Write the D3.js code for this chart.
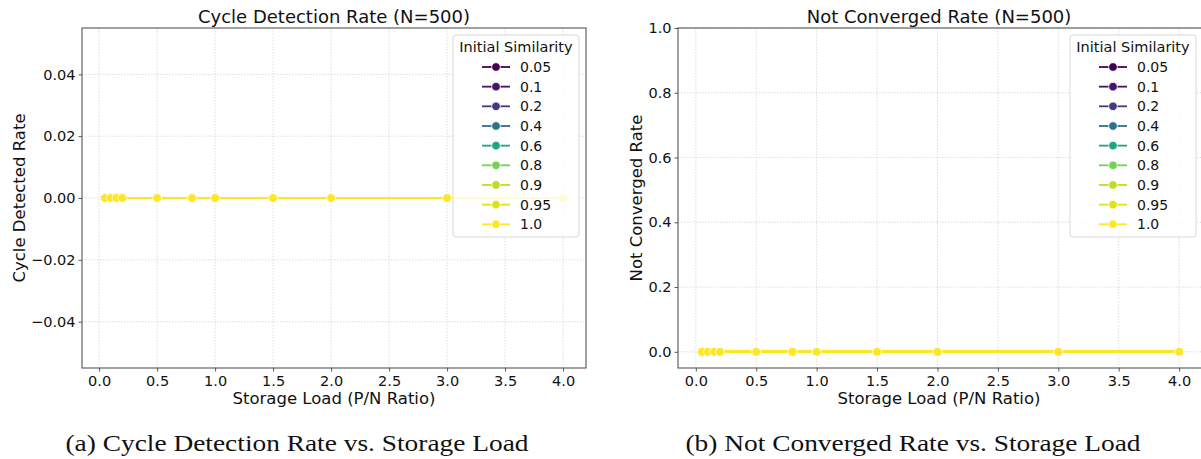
<!DOCTYPE html>
<html>
<head>
<meta charset="utf-8">
<script src="https://cdn.jsdelivr.net/npm/d3@7"></script>
<style>
  body { margin: 0; background: #fff; }
  svg { display: block; }
</style>
</head>
<body>
<svg></svg>
<script>
// DATA
let loads = [0.05, 0.1, 0.15, 0.2, 0.5, 0.8, 1.0, 1.5, 2.0, 3.0, 4.0]
let similarities = ["0.05", "0.1", "0.2", "0.4", "0.6", "0.8", "0.9", "0.95", "1.0"]
// every series is flat at zero in both panels
let cycleRate = [0, 0, 0, 0, 0, 0, 0, 0, 0, 0, 0]
let notConvergedRate = [0, 0, 0, 0, 0, 0, 0, 0, 0, 0, 0]

let xTicks = [0.0, 0.5, 1.0, 1.5, 2.0, 2.5, 3.0, 3.5, 4.0]
let yTicksA = [-0.04, -0.02, 0.00, 0.02, 0.04]
let yTicksB = [0.0, 0.2, 0.4, 0.6, 0.8, 1.0]

let svgWidth = 1201
let svgHeight = 459

let svg = d3.select("svg")
  .attr("width", svgWidth)
  .attr("height", svgHeight)
  .style("font-family", "'DejaVu Sans', sans-serif")

let color = d3.scaleSequential(d3.interpolateViridis).domain([0.05, 1.0])

function drawPanel(opts) {
  let x = d3.scaleLinear().domain([-0.1475, 4.1975]).range([opts.left, opts.right])
  let y = d3.scaleLinear().domain(opts.yDomain).range([opts.bottom, opts.top])

  let g = svg.append("g")

  // clip for the plot area
  let clipId = "clip" + opts.id
  g.append("clipPath").attr("id", clipId)
    .append("rect")
    .attr("x", opts.left).attr("y", opts.top)
    .attr("width", opts.right - opts.left).attr("height", opts.bottom - opts.top)

  // GRID
  g.append("g").selectAll("line")
    .data(xTicks)
    .enter().append("line")
    .attr("x1", d => x(d)).attr("x2", d => x(d))
    .attr("y1", opts.top).attr("y2", opts.bottom)
    .attr("stroke", "#d4d4d4").attr("stroke-width", 0.8)
    .attr("stroke-dasharray", "1.5,1.5")

  g.append("g").selectAll("line")
    .data(opts.yTicks)
    .enter().append("line")
    .attr("x1", opts.left).attr("x2", opts.right)
    .attr("y1", d => y(d)).attr("y2", d => y(d))
    .attr("stroke", "#d4d4d4").attr("stroke-width", 0.8)
    .attr("stroke-dasharray", "1.5,1.5")

  // AXES
  let xAxis = d3.axisBottom(x).tickValues(xTicks).tickFormat(d3.format(".1f")).tickSize(3.5).tickPadding(4)
  let yAxis = d3.axisLeft(y).tickValues(opts.yTicks).tickFormat(opts.yFormat).tickSize(3.5).tickPadding(3)

  let gx = g.append("g")
    .attr("transform", `translate(0, ${opts.bottom})`)
    .call(xAxis)
  let gy = g.append("g")
    .attr("transform", `translate(${opts.left}, 0)`)
    .call(yAxis)

  ;[gx, gy].forEach(a => {
    a.select(".domain").remove()
    a.selectAll("line").attr("stroke", "#444").attr("stroke-width", 0.9)
    a.selectAll("text").attr("fill", "#111").style("font-size", "14.5px")
      .style("font-family", "'DejaVu Sans', sans-serif")
  })
  gy.selectAll("text").text(function () { return this.textContent.replace("-", "\u2212") })

  // frame
  g.append("rect")
    .attr("x", opts.left).attr("y", opts.top)
    .attr("width", opts.right - opts.left).attr("height", opts.bottom - opts.top)
    .attr("fill", "none").attr("stroke", "#555").attr("stroke-width", 1.1)

  // SERIES
  let line = d3.line().x((d, i) => x(loads[i])).y(d => y(d))
  let plot = g.append("g").attr("clip-path", `url(#${clipId})`)
  similarities.forEach(s => {
    let c = color(+s)
    plot.append("path")
      .datum(opts.values)
      .attr("d", line)
      .attr("fill", "none")
      .attr("stroke", c)
      .attr("stroke-width", 2.8)
      .attr("shape-rendering", "crispEdges")
    plot.append("g").selectAll("circle")
      .data(opts.values)
      .enter().append("circle")
      .attr("cx", (d, i) => x(loads[i]))
      .attr("cy", d => y(d))
      .attr("r", 4.4)
      .attr("fill", c)
      .attr("stroke", "#fff")
      .attr("stroke-width", 0.8)
  })

  // TITLES
  g.append("text")
    .attr("x", opts.titleX)
    .attr("y", 23)
    .attr("text-anchor", "middle")
    .style("font-size", "18px")
    .attr("fill", "#111")
    .text(opts.title)

  g.append("text")
    .attr("x", opts.xLabelX)
    .attr("y", 404)
    .attr("text-anchor", "middle")
    .style("font-size", "16.5px")
    .attr("fill", "#111")
    .text("Storage Load (P/N Ratio)")

  g.append("text")
    .attr("transform", `translate(${opts.yLabelX}, ${(opts.top + opts.bottom) / 2}) rotate(-90)`)
    .attr("text-anchor", "middle")
    .style("font-size", "16.5px")
    .attr("fill", "#111")
    .text(opts.yLabel)

  // LEGEND
  let lg = g.append("g").attr("transform", `translate(${opts.legendX}, 35)`)
  lg.append("rect")
    .attr("x", 0).attr("y", 0)
    .attr("width", opts.legendW).attr("height", 202)
    .attr("rx", 3)
    .attr("fill", "#fff").attr("fill-opacity", 0.8)
    .attr("stroke", "#d8d8d8").attr("stroke-width", 1)
  lg.append("text")
    .attr("x", opts.legendW / 2)
    .attr("y", 17)
    .attr("text-anchor", "middle")
    .style("font-size", "14.5px")
    .attr("fill", "#111")
    .text("Initial Similarity")
  let items = lg.selectAll("g.item")
    .data(similarities)
    .enter().append("g")
    .attr("class", "item")
    .attr("transform", (d, i) => `translate(0, ${32 + i * 19.66})`)
  items.append("line")
    .attr("x1", opts.handleX).attr("x2", opts.handleX + 28)
    .attr("y1", 0).attr("y2", 0)
    .attr("stroke", d => color(+d)).attr("stroke-width", 1.8)
  items.append("circle")
    .attr("cx", opts.handleX + 14).attr("cy", 0).attr("r", 4.3)
    .attr("fill", d => color(+d))
    .attr("stroke", "#fff").attr("stroke-width", 0.8)
  items.append("text")
    .attr("x", opts.handleX + 38)
    .attr("y", 5)
    .style("font-size", "14px")
    .attr("fill", "#111")
    .text(d => d)
}

drawPanel({
  id: "a", left: 82, right: 586, top: 28, bottom: 368,
  yDomain: [-0.055, 0.055], yTicks: yTicksA, yFormat: d3.format(".2f"),
  values: cycleRate,
  title: "Cycle Detection Rate (N=500)", titleX: 334,
  yLabel: "Cycle Detected Rate", yLabelX: 25, xLabelX: 334,
  legendX: 453, legendW: 126, handleX: 29
})

drawPanel({
  id: "b", left: 678, right: 1203, top: 28, bottom: 368,
  yDomain: [-0.05, 1.0], yTicks: yTicksB, yFormat: d3.format(".1f"),
  values: notConvergedRate,
  title: "Not Converged Rate (N=500)", titleX: 939,
  yLabel: "Not Converged Rate", yLabelX: 642, xLabelX: 939,
  legendX: 1070, legendW: 126, handleX: 29
})

// CAPTIONS
let captions = ["(a) Cycle Detection Rate vs. Storage Load", "(b) Not Converged Rate vs. Storage Load"]
let captionX = [297, 913]
let captionW = [463, 455]
svg.selectAll("text.caption")
  .data(captions)
  .enter().append("text")
  .attr("class", "caption")
  .attr("x", (d, i) => captionX[i] - captionW[i] / 2)
  .attr("y", 451)
  .attr("textLength", (d, i) => captionW[i])
  .attr("lengthAdjust", "spacingAndGlyphs")
  .style("font-family", "'Liberation Serif', 'Times New Roman', serif")
  .style("font-size", "24px")
  .attr("fill", "#111")
  .text(d => d)
</script>
</body>
</html>
